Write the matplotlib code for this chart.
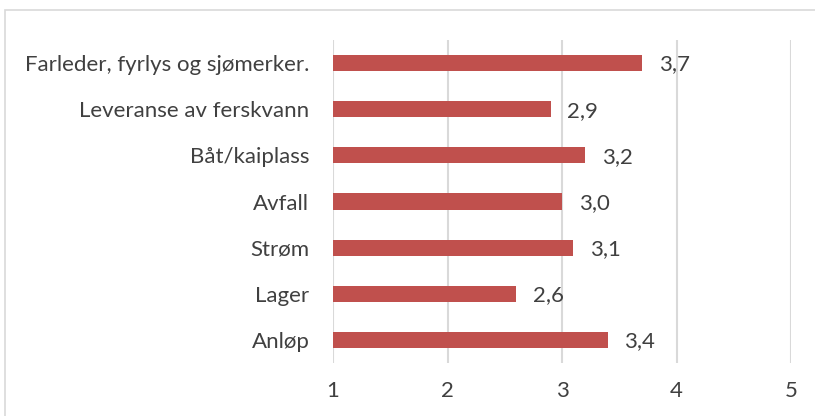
import matplotlib.pyplot as plt
from matplotlib.patches import Rectangle

# data, bottom to top
categories = ['Anløp', 'Lager', 'Strøm', 'Avfall', 'Båt/kaiplass',
              'Leveranse av ferskvann', 'Farleder, fyrlys og sjømerker.']
values = [3.4, 2.6, 3.1, 3.0, 3.2, 2.9, 3.7]
xticks = [1, 2, 3, 4, 5]

plt.rcParams['font.family'] = ['Lato', 'DejaVu Sans']

fig = plt.figure(figsize=(8.15, 4.16), dpi=100)
ax = fig.add_axes([333 / 815, 1 - 363 / 416, 458 / 815, 323 / 416])

# chart border (light grey frame, cut off on right/bottom)
fig.patches.append(Rectangle((5 / 815, -0.1), 1.2, 1 - 10 / 416 + 0.1,
                             transform=fig.transFigure, fill=False,
                             edgecolor='#D9D9D9', linewidth=1.2))

ypos = list(range(len(categories)))
ax.barh(ypos, [v - 1 for v in values], left=1, height=0.35,
        color='#C0504D', zorder=3)

for y, v in zip(ypos, values):
    ax.annotate(f'{v:.1f}'.replace('.', ','), (v, y), xytext=(12, -1),
                textcoords='offset points', va='center', ha='left',
                fontsize=16, color='#404040')

ax.set_xlim(1, 5)
ax.set_ylim(-0.5, len(categories) - 0.5)
ax.set_xticks(xticks)
ax.set_yticks(ypos)
ax.set_yticklabels(categories)
ax.grid(axis='x', color='#D9D9D9', linewidth=1.5, zorder=0)
for s in ax.spines.values():
    s.set_visible(False)
ax.tick_params(axis='both', length=0, labelsize=16, labelcolor='#404040')
ax.tick_params(axis='y', pad=17)
ax.tick_params(axis='x', pad=13)

fig.savefig('out.png', dpi=100)
